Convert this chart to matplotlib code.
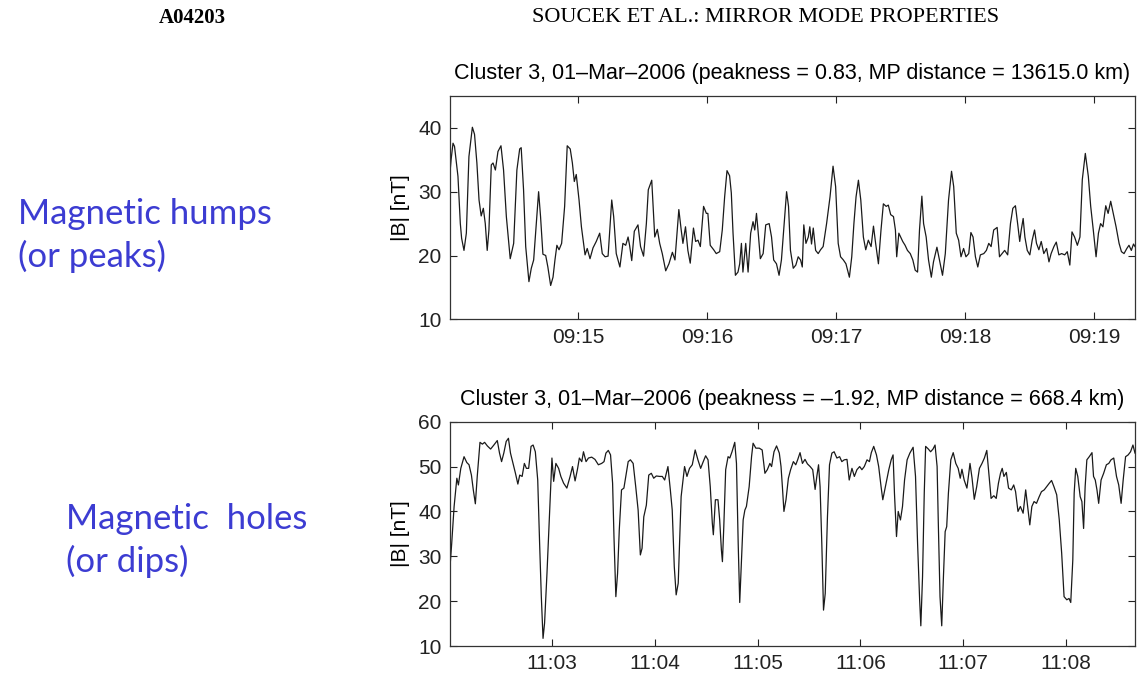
import numpy as np
import matplotlib
matplotlib.use("Agg")
import matplotlib.pyplot as plt
import matplotlib.dates as mdates

# Panel 1: magnetic humps, seconds after 09:14:00 and |B| in nT
t_hump = [0.0, 1.0, 1.9, 2.6, 4.2, 5.3, 5.9, 7.0, 8.1, 9.3, 10.9, 11.9, 13.0, 14.0, 15.0, 16.0,
          16.9, 17.8, 18.6, 19.7, 20.5, 21.6, 22.8, 24.2, 25.4, 26.7, 28.5, 30.1, 31.6, 32.9,
          33.6, 34.7, 35.7, 37.2, 38.3, 39.4, 40.6, 41.7, 42.6, 43.7, 45.0, 46.0, 47.3, 48.4,
          49.3, 50.2, 51.2, 52.4, 53.8, 55.0, 56.4, 57.4, 58.3, 59.2, 60.5, 61.6, 62.3, 63.3,
          64.3, 65.6, 67.0, 68.5, 70.1, 71.3, 72.6, 74.0, 75.7, 76.6, 77.8, 79.5, 80.9, 82.2,
          83.3, 84.0, 85.0, 86.2, 87.9, 89.1, 90.5, 91.8, 92.7, 94.3, 95.7, 96.9, 98.0, 99.2,
          100.8, 102.3, 103.9, 105.1, 106.9, 108.0, 108.8, 110.0, 111.1, 112.2, 113.7, 114.7,
          115.8, 116.9, 118.4, 119.7, 120.4, 121.5, 123.1, 124.3, 125.9, 127.1, 128.2, 129.3,
          130.5, 131.3, 132.1, 133.2, 134.4, 135.2, 136.0, 136.7, 138.0, 139.1, 140.3, 141.4,
          142.2, 143.0, 143.7, 144.8, 146.1, 147.3, 148.9, 150.0, 151.0, 152.3, 153.5, 154.6,
          155.9, 157.0, 157.9, 158.8, 160.1, 161.3, 162.4, 163.5, 164.3, 165.0, 166.0, 167.1,
          167.8, 168.6, 169.4, 170.5, 171.7, 172.8, 174.0, 175.6, 177.2, 178.6, 179.8, 181.0,
          182.1, 183.4, 184.6, 186.2, 187.3, 188.3, 189.3, 190.4, 191.5, 192.7, 193.8, 195.0,
          196.3, 197.4, 198.4, 199.7, 200.9, 202.0, 203.3, 204.3, 205.4, 206.7, 207.6, 208.2,
          209.2, 211.0, 212.1, 213.2, 214.5, 215.7, 216.8, 217.9, 218.8, 219.9, 220.7, 221.9,
          223.0, 224.3, 225.3, 226.9, 228.1, 229.5, 230.8, 232.3, 233.7, 234.7, 235.9, 237.0,
          238.1, 239.3, 240.4, 241.7, 242.7, 243.7, 244.8, 245.9, 247.1, 248.7, 249.9, 251.0,
          252.1, 253.3, 254.9, 256.0, 257.2, 258.4, 259.8, 261.1, 262.2, 263.4, 264.5, 265.4,
          266.1, 267.0, 267.8, 268.9, 270.1, 271.2, 272.3, 273.2, 274.3, 275.4, 276.6, 277.9,
          279.0, 280.0, 281.3, 282.4, 283.6, 284.9, 286.3, 287.5, 288.7, 289.7, 290.9, 292.2,
          293.4, 294.5, 295.9, 297.3, 298.4, 299.6, 300.9, 302.0, 303.0, 304.1, 305.4, 306.5,
          307.7, 309.0, 310.2, 311.6, 312.7, 313.9, 315.2, 316.2, 317.3, 318.3, 319.0]
b_hump = [31.0, 35.0, 37.6, 37.1, 32.4, 25.0, 22.7, 20.8, 23.5, 35.5, 40.1, 39.0, 34.5, 28.7, 26.2, 27.4,
          25.0, 20.8, 24.0, 34.2, 34.5, 33.4, 36.3, 37.2, 33.4, 26.1, 19.5, 21.9, 33.4, 36.7,
          36.9, 30.3, 21.4, 15.9, 18.0, 19.3, 25.0, 30.0, 26.1, 20.2, 20.0, 18.2, 15.3, 16.6,
          19.3, 21.6, 20.9, 21.9, 27.7, 37.2, 36.7, 34.5, 31.6, 32.7, 28.7, 24.5, 22.7, 20.1,
          21.1, 19.5, 21.2, 22.2, 23.5, 20.3, 19.8, 19.9, 28.7, 26.1, 20.3, 18.2, 21.9, 21.6,
          22.9, 21.6, 19.2, 23.8, 24.8, 21.4, 19.9, 25.0, 30.3, 31.8, 22.9, 24.1, 21.9, 20.3,
          17.6, 18.7, 20.5, 19.3, 27.2, 24.0, 21.9, 24.5, 20.8, 18.8, 24.3, 22.2,
          22.4, 21.4, 27.7, 26.6, 26.6, 21.6, 20.9, 20.3, 20.6, 24.0, 29.2, 33.3,
          32.5, 29.8, 23.5, 16.9, 17.4, 18.7, 21.9, 17.4, 21.9, 17.4, 23.5, 25.3,
          24.0, 26.6, 24.0, 19.5, 20.3, 24.8, 25.0, 22.9, 19.3, 18.7, 16.9, 19.3,
          25.0, 30.0, 27.7, 20.8, 18.0, 18.5, 19.8, 19.3, 18.2, 24.8, 21.9, 22.9,
          24.5, 21.8, 24.3, 20.8, 20.3, 20.9, 21.4, 25.0, 29.2, 34.0, 30.8, 21.9,
          19.8, 19.3, 18.7, 16.6, 19.8, 25.0, 29.2, 31.8, 28.7, 22.9, 20.9, 22.4,
          21.4, 24.6, 21.9, 18.7, 24.0, 28.1, 27.7, 27.9, 26.4, 26.1, 24.0, 19.8,
          23.5, 22.2, 21.6, 20.8, 20.3, 19.3, 17.7, 17.4, 24.0, 29.3, 25.0, 22.9,
          19.3, 16.6, 19.0, 21.3, 19.3, 16.9, 20.3, 28.7, 33.2, 30.8, 23.5, 22.4,
          19.8, 21.1, 19.8, 20.3, 23.6, 22.9, 19.8, 18.2, 20.1, 20.3, 20.8, 21.9,
          21.4, 24.0, 24.4, 19.8, 20.3, 20.8, 20.1, 25.0, 27.4, 27.8, 24.8, 22.2,
          24.0, 25.8, 22.9, 20.8, 20.1, 22.4, 24.0, 21.9, 20.9, 22.2, 20.3, 21.1,
          19.0, 20.3, 21.4, 22.1, 20.1, 20.3, 20.1, 20.6, 18.5, 23.7, 22.9, 21.6,
          22.9, 31.9, 36.0, 32.4, 27.7, 24.0, 19.8, 23.5, 25.0, 24.5, 27.8, 26.6,
          28.5, 26.4, 24.5, 21.9, 20.6, 20.3, 21.1, 21.6, 20.8, 21.8, 21.4]

# Panel 2: magnetic holes, seconds after 11:02:00 and |B| in nT
t_hole = [0.0, 1.5, 2.9, 4.5, 5.4, 6.8, 8.7, 10.3, 11.6, 13.0, 14.1, 15.3, 16.4, 18.0, 19.4, 20.7,
          22.3, 24.2, 26.1, 28.1, 29.4, 30.6, 31.9, 33.3, 34.6, 35.8, 37.3, 38.7, 40.1, 41.2,
          42.6, 43.9, 45.1, 46.4, 47.8, 49.0, 50.3, 51.7, 52.8, 53.8, 54.8, 55.7, 57.1, 58.6,
          60.0, 61.0, 62.3, 63.9, 65.2, 66.8, 68.7, 70.6, 72.0, 73.5, 74.9, 76.0, 77.4, 78.4,
          79.9, 81.3, 83.2, 85.1, 87.1, 89.0, 90.4, 91.5, 92.9, 94.2, 95.4, 96.2, 97.3, 98.3,
          99.3, 100.6, 102.0, 103.1, 104.5, 105.8, 107.4, 108.9, 110.3, 111.6, 112.6, 113.6,
          115.1, 116.5, 118.0, 119.4, 120.9, 122.9, 124.4, 125.8, 127.7, 129.1, 130.2, 131.4,
          132.5, 133.7, 135.4, 137.4, 138.8, 140.3, 141.9, 143.6, 145.2, 146.8, 148.1, 149.7,
          151.1, 152.4, 153.6, 154.2, 155.4, 156.9, 157.9, 158.9, 159.5, 160.3, 161.4, 162.8,
          163.8, 165.1, 166.7, 167.7, 168.7, 169.6, 170.6, 171.6, 172.6, 173.5, 175.1, 176.5,
          177.4, 179.0, 181.0, 182.7, 184.3, 185.7, 187.2, 188.2, 189.6, 191.1, 192.7, 193.7,
          194.5, 195.4, 196.6, 198.0, 199.3, 200.9, 202.3, 203.4, 204.8, 206.2, 207.7, 209.1,
          210.7, 212.2, 213.6, 214.6, 215.6, 216.5, 217.5, 218.5, 219.5, 220.8, 222.0, 223.4,
          224.7, 226.3, 227.9, 229.2, 230.6, 232.2, 233.5, 235.1, 236.5, 238.0, 239.6, 240.9,
          242.3, 243.9, 245.3, 246.4, 247.8, 249.4, 250.7, 252.1, 253.1, 254.6, 256.6, 258.0,
          259.1, 259.9, 261.1, 262.1, 263.4, 264.6, 265.8, 267.3, 268.9, 270.8, 272.2, 273.4,
          274.6, 275.3, 276.3, 277.3, 278.1, 279.7, 281.0, 282.4, 283.6, 284.8, 285.5, 286.5,
          287.5, 288.5, 289.5, 290.4, 291.4, 292.8, 294.2, 295.7, 297.1, 298.3, 299.3, 300.6,
          302.2, 304.0, 305.2, 306.5, 307.9, 309.5, 311.0, 312.4, 313.8, 315.0, 316.3, 317.9,
          319.3, 320.6, 321.8, 322.8, 323.8, 325.2, 326.5, 328.1, 329.5, 330.6, 332.0, 333.4,
          335.0, 336.5, 337.9, 338.9, 340.1, 341.4, 342.8, 344.4, 345.7, 347.3, 348.7, 350.3,
          351.6, 353.0, 354.6, 356.1, 357.5, 358.9, 360.5, 361.8, 362.8, 364.0, 364.8, 365.7,
          366.9, 368.3, 369.3, 370.3, 371.2, 372.2, 373.6, 375.2, 376.1, 377.1, 378.1, 379.1,
          380.5, 382.0, 383.6, 385.0, 386.3, 387.9, 389.5, 390.8, 392.2, 393.4, 394.8, 396.3,
          397.7, 399.1, 400.3]
b_hole = [25.0, 32.9, 41.1, 47.4, 45.9, 49.6, 52.2, 50.9, 50.4, 48.1, 44.8, 41.7, 47.8, 55.4, 55.0, 55.4,
          54.6, 53.9, 54.8, 55.8, 53.0, 51.1, 53.0, 55.6, 56.3, 53.0, 50.7, 48.5, 46.1, 48.1,
          47.8, 50.7, 49.6, 49.6, 54.5, 54.8, 53.3, 47.0, 32.9, 21.0, 11.7, 15.1, 26.2, 39.6,
          51.9, 46.7, 50.7, 49.6, 47.8, 46.3, 45.2, 47.8, 50.0, 46.8, 49.4, 51.9, 51.1, 53.3,
          51.1, 51.9, 52.1, 51.6, 50.4, 50.7, 51.1, 53.0, 53.6, 52.6, 46.3, 34.4, 21.0, 26.2,
          35.9, 44.8, 45.2, 47.8, 51.1, 51.5, 50.7, 45.5, 40.3, 30.3, 31.8, 38.8,
          41.4, 48.1, 48.5, 47.4, 47.9, 47.8, 47.8, 47.0, 50.0, 44.8, 40.3, 27.7,
          21.4, 24.0, 43.3, 50.0, 47.8, 49.6, 50.4, 53.7, 51.5, 49.6, 50.9, 52.4,
          51.5, 45.5, 37.4, 34.8, 42.6, 42.6, 38.1, 31.4, 28.8, 36.6, 49.3, 52.2,
          51.9, 53.3, 55.4, 50.7, 32.9, 19.7, 29.2, 38.1, 40.3, 41.1, 45.5, 52.2,
          55.2, 54.1, 54.1, 53.7, 48.5, 49.3, 50.7, 50.0, 53.3, 54.6, 53.0, 50.0,
          45.5, 40.0, 42.6, 47.4, 49.3, 51.1, 50.4, 51.5, 53.1, 50.7, 51.6, 50.6,
          50.0, 49.3, 44.9, 47.8, 50.4, 45.5, 32.9, 18.0, 21.7, 38.8, 50.4, 53.0,
          53.3, 51.9, 52.2, 51.1, 51.5, 51.6, 47.0, 49.6, 47.8, 49.3, 50.0, 49.3,
          50.0, 51.5, 51.1, 53.1, 54.5, 52.6, 50.0, 45.5, 42.6, 45.5, 49.3, 51.5,
          52.6, 44.1, 34.4, 40.0, 38.1, 41.1, 47.0, 51.5, 53.0, 54.3, 47.8, 32.9,
          20.3, 14.5, 25.5, 44.1, 54.5, 53.9, 53.3, 53.9, 54.8, 50.0, 37.4, 21.0,
          14.5, 25.5, 35.5, 36.6, 44.1, 51.5, 53.1, 50.7, 49.6, 47.4, 49.4, 47.0,
          45.2, 50.7, 47.4, 42.7, 45.5, 49.6, 50.7, 51.9, 53.6, 48.5, 42.9, 43.5,
          42.9, 46.3, 48.5, 49.6, 47.8, 48.7, 45.2, 44.8, 45.9, 44.4, 40.0, 41.1,
          39.6, 44.8, 40.3, 37.0, 41.1, 42.2, 41.8, 43.3, 44.4, 44.8, 45.5, 46.3,
          46.9, 45.5, 43.7, 38.1, 30.7, 21.0, 20.3, 20.6, 19.7, 29.2, 44.1, 49.6,
          47.8, 43.3, 42.2, 36.2, 45.5, 51.5, 52.2, 53.1, 47.8, 47.0, 44.8, 41.8,
          47.0, 48.5, 50.4, 50.7, 51.5, 51.9, 47.8, 45.9, 41.8, 47.0, 52.2, 52.6,
          53.3, 54.8, 53.0]

title_hump = "Cluster 3, 01\u2013Mar\u20132006 (peakness = 0.83, MP distance = 13615.0 km)"
title_hole = "Cluster 3, 01\u2013Mar\u20132006 (peakness = \u20131.92, MP distance = 668.4 km)"

plt.rcParams['font.family'] = ['Liberation Sans', 'DejaVu Sans']


def to_times(start, secs):
    ms = np.round(np.array(secs) * 1000).astype('int64')
    return np.datetime64(start) + ms.astype('timedelta64[ms]')


def style_axes(ax, start, span, ylim, yticks):
    t0 = np.datetime64(start)
    # axis starts just after the full minute, so no label sits on the left edge
    ax.set_xlim(t0 + np.timedelta64(500, 'ms'), t0 + np.timedelta64(int(span * 1000), 'ms'))
    ax.set_ylim(*ylim)
    ax.set_yticks(yticks)
    ax.xaxis.set_major_locator(mdates.MinuteLocator())
    ax.xaxis.set_major_formatter(mdates.DateFormatter('%H:%M'))
    ax.tick_params(direction='in', top=True, right=True, length=5, width=0.8,
                   labelsize=15, pad=6, colors='#222222')
    for s in ax.spines.values():
        s.set_linewidth(0.9)
        s.set_color('#333333')
    ax.set_ylabel('|B| [nT]', fontsize=15, labelpad=6)


fig = plt.figure(figsize=(11.38, 6.75), dpi=100)

ax1 = fig.add_axes([450 / 1138, (675 - 319.3) / 675, 685 / 1138, 223.3 / 675])
ax1.plot(to_times('2006-03-01T09:14:00', t_hump), b_hump, color='#1a1a1a', lw=0.9)
style_axes(ax1, '2006-03-01T09:14:00', 319.0, (10, 45), [10, 20, 30, 40])
ax1.set_title(title_hump, fontsize=15.5, pad=12)

ax2 = fig.add_axes([450 / 1138, (675 - 646) / 675, 685 / 1138, 224.3 / 675])
ax2.plot(to_times('2006-03-01T11:02:00', t_hole), b_hole, color='#1a1a1a', lw=0.9)
style_axes(ax2, '2006-03-01T11:02:00', 400.3, (10, 60), [10, 20, 30, 40, 50, 60])
ax2.set_title(title_hole, fontsize=15.5, pad=12)

# page header of the paper
fig.text(192 / 1138, 1 - 18 / 675, 'A04203', family='Liberation Serif', weight='bold',
         fontsize=15, ha='center', va='center')
fig.text(766 / 1138, 1 - 18 / 675, 'SOUCEK ET AL.: MIRROR MODE PROPERTIES',
         family='Liberation Serif', fontsize=16, ha='center', va='center')

# slide annotations
blue = '#3C3CD2'
fig.text(18 / 1138, 1 - 198 / 675, 'Magnetic humps\n(or peaks)', family='Lato',
         fontsize=25, color=blue, ha='left', va='top', linespacing=1.35)
fig.text(66 / 1138, 1 - 503 / 675, 'Magnetic  holes\n(or dips)', family='Lato',
         fontsize=25, color=blue, ha='left', va='top', linespacing=1.35)

fig.savefig('out.png', dpi=100)
